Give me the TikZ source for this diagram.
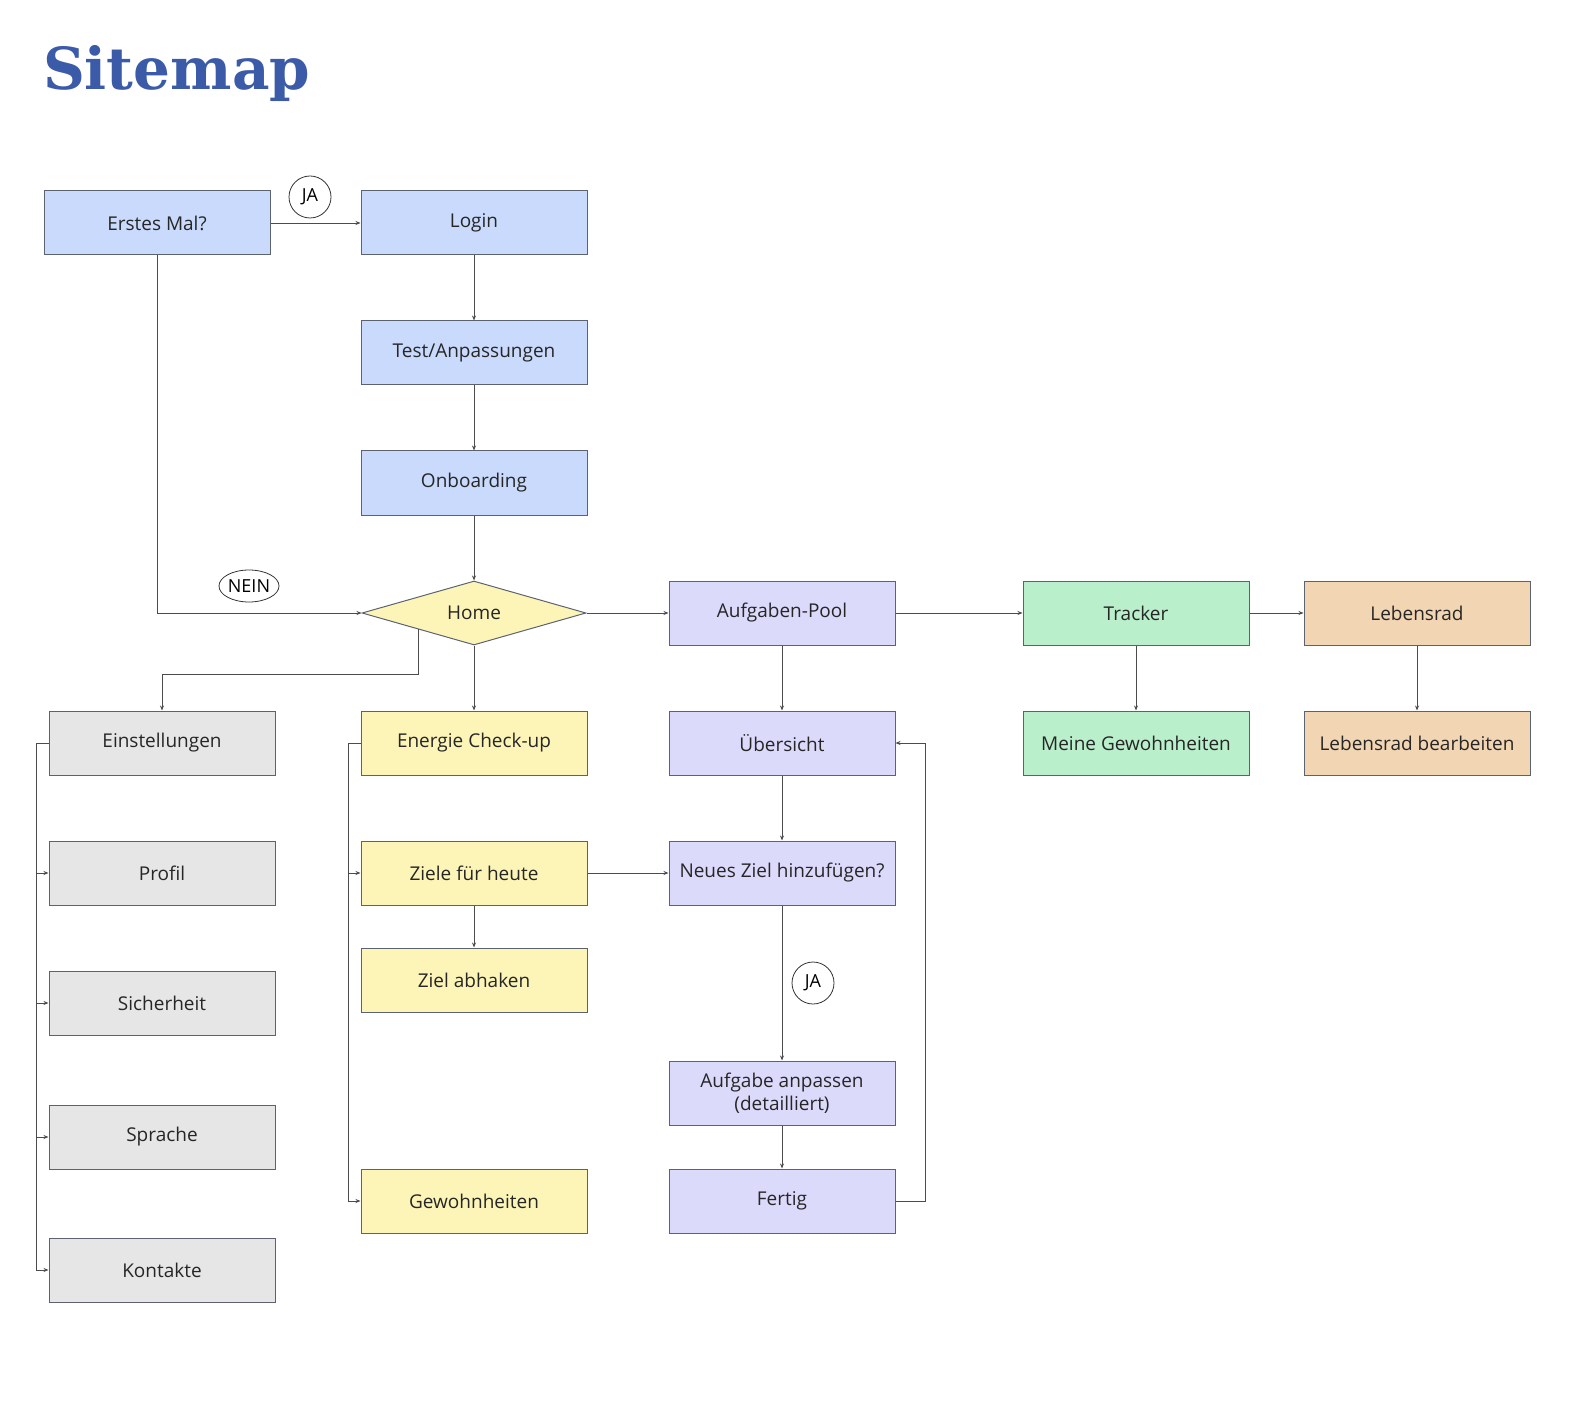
\documentclass[tikz,border=0pt]{standalone}
\usepackage{fontspec}
\setmainfont{Open Sans}
\newfontfamily\titlefont{DejaVu Serif}
\usetikzlibrary{shapes.geometric,arrows.meta}
\definecolor{cblue}{HTML}{C9DAFC}
\definecolor{cyel}{HTML}{FDF5B8}
\definecolor{cpur}{HTML}{DCDAFB}
\definecolor{cgrn}{HTML}{B9EFCB}
\definecolor{corg}{HTML}{F2D5B3}
\definecolor{cgry}{HTML}{E6E6E6}
\definecolor{cbord}{HTML}{5C6370}
\definecolor{ctitle}{HTML}{3B5BA9}
\begin{document}
\begin{tikzpicture}[x=0.5pt,y=-0.5pt,
  box/.style={draw=cbord,line width=0.5pt,minimum width=113pt,minimum height=32pt,inner sep=0pt,font=\fontsize{9.5}{11.5}\selectfont,text=black!85,align=center},
  ar/.style={draw=black!70,line width=0.4pt,-{Stealth[length=2.5pt,width=2pt]}},
  ln/.style={draw=black!70,line width=0.4pt},
  lab/.style={draw=black!80,fill=white,line width=0.4pt,font=\fontsize{9}{11}\selectfont,inner sep=0pt}]
\useasboundingbox (0,0) rectangle (1588,1406);
\node[font=\titlefont\bfseries\fontsize{29}{34}\selectfont,text=ctitle,anchor=west] (title) at (36,74) {Sitemap};
\node[box,fill=cblue] (erst) at (157,223) {Erstes Mal?};
\node[box,fill=cblue] (login) at (474,223) {Login};
\node[box,fill=cblue] (test) at (474,353) {Test/Anpassungen};
\node[box,fill=cblue] (onb) at (474,483) {Onboarding};
\node[diamond,aspect=3.5,draw=cbord,line width=0.5pt,fill=cyel,minimum width=112pt,minimum height=32pt,inner sep=0pt,font=\fontsize{9.5}{11.5}\selectfont,text=black!85] (home) at (474,613) {Home};
\node[box,fill=cpur] (pool) at (782,613) {Aufgaben-Pool};
\node[box,fill=cgrn] (track) at (1136,613) {Tracker};
\node[box,fill=corg] (rad) at (1417,613) {Lebensrad};
\node[box,fill=cgry] (ein) at (162,743) {Einstellungen};
\node[box,fill=cyel] (ener) at (474,743) {Energie Check-up};
\node[box,fill=cpur] (ueb) at (782,743) {Übersicht};
\node[box,fill=cgrn] (meine) at (1136,743) {Meine Gewohnheiten};
\node[box,fill=corg] (radb) at (1417,743) {Lebensrad bearbeiten};
\node[box,fill=cgry] (prof) at (162,873) {Profil};
\node[box,fill=cyel] (ziele) at (474,873) {Ziele für heute};
\node[box,fill=cpur] (neu) at (782,873) {Neues Ziel hinzufügen?};
\node[box,fill=cyel] (abh) at (474,980) {Ziel abhaken};
\node[box,fill=cgry] (sich) at (162,1003) {Sicherheit};
\node[box,fill=cpur] (anp) at (782,1093) {Aufgabe anpassen\\(detailliert)};
\node[box,fill=cgry] (spr) at (162,1137) {Sprache};
\node[box,fill=cyel] (gew) at (474,1201) {Gewohnheiten};
\node[box,fill=cpur] (fert) at (782,1201) {Fertig};
\node[box,fill=cgry] (kont) at (162,1270) {Kontakte};
% labels
\node[lab,circle,minimum size=21pt] (ja1) at (310,197) {JA};
\node[lab,ellipse,minimum width=30pt,minimum height=16pt] (nein) at (249,586) {NEIN};
\node[lab,circle,minimum size=21pt] (ja2) at (813,983) {JA};
% connectors
\draw[ar] (erst) -- (login);
\draw[ar] (erst.south) |- (home.west);
\draw[ar] (login) -- (test);
\draw[ar] (test) -- (onb);
\draw[ar] (onb) -- (home.north);
\draw[ar] (home.east) -- (pool);
\draw[ar] (pool) -- (track);
\draw[ar] (track) -- (rad);
\draw[ar] (pool) -- (ueb);
\draw[ar] (ueb) -- (neu);
\draw[ar] (neu) -- (anp);
\draw[ar] (anp) -- (fert);
\draw[ar] (fert.east) -- ++(30,0) |- (ueb.east);
\draw[ar] (track) -- (meine);
\draw[ar] (rad) -- (radb);
\draw[ar] (home.south) -- (ener);
\coordinate (hs) at (418,629);
\draw[ar] (hs) -- (418,674) -| (ein.north);
\draw[ar] (ziele) -- (neu);
\draw[ar] (ziele) -- (abh);
\draw[ln] (ein.west) -- ++(-12,0) coordinate (e1);
\foreach \n in {prof,sich,spr,kont} \draw[ar] (e1) |- (\n.west);
\draw[ln] (ener.west) -- ++(-12,0) coordinate (g1);
\foreach \n in {ziele,gew} \draw[ar] (g1) |- (\n.west);
\end{tikzpicture}
\end{document}
